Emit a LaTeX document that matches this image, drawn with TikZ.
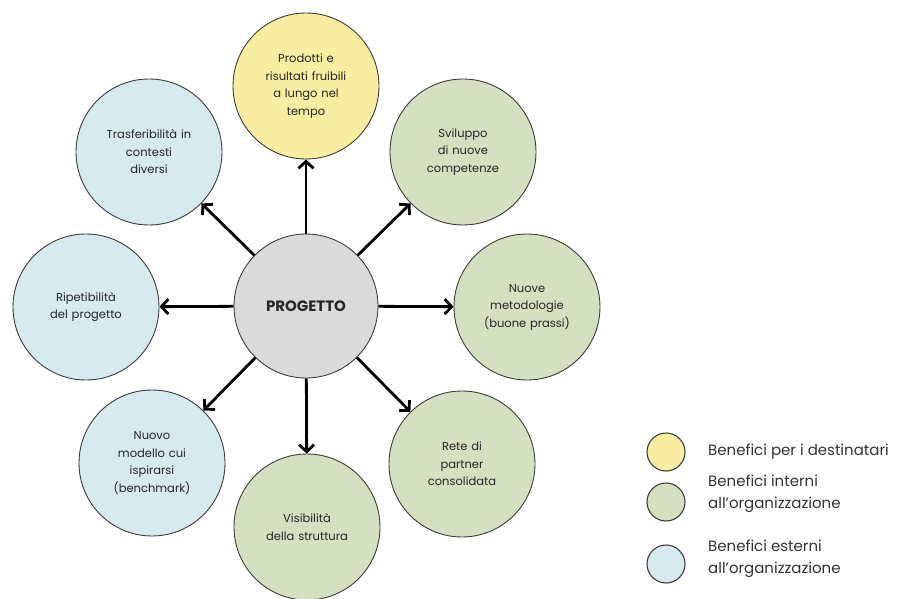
\documentclass[tikz,border=0pt]{standalone}
\usepackage{fontspec}
\setmainfont{Poppins}
\usetikzlibrary{arrows.meta}

\definecolor{giallo}{RGB}{248,237,160}
\definecolor{verde}{RGB}{212,224,192}
\definecolor{azzurro}{RGB}{214,234,240}
\definecolor{grigio}{RGB}{218,218,218}
\definecolor{bordo}{RGB}{60,60,60}

\tikzset{
	beneficio/.style = {circle, draw = bordo, line width = 0.9pt, minimum size = 146pt, inner sep = 0pt,
		text width = 120pt, align = center, font = \fontsize{11.5}{17.5}\selectfont, text = black!85},
	progetto/.style = {circle, draw = bordo, line width = 0.9pt, minimum size = 144pt, inner sep = 0pt,
		fill = grigio, font = \fontsize{15}{18}\selectfont\bfseries, text = black!85},
	legenda/.style = {circle, draw = bordo, line width = 1.1pt, minimum size = 38pt, inner sep = 0pt},
	voce/.style = {anchor = west, align = left, inner sep = 0pt, font = \fontsize{15}{22}\selectfont, text = black!80},
	freccia/.style = {line width = 2.8pt, -{Straight Barb[length = 7pt, width = 15pt]}}
}

\begin{document}
\begin{tikzpicture}[x=1pt, y=-1pt]
	\useasboundingbox (0,0) rectangle (903,599);
	\node (P)  at (306, 306)	[progetto]			{PROGETTO};
	\node (D1) at (306,  86)	[beneficio, fill = giallo]	{Prodotti e\\risultati fruibili\\a lungo nel\\tempo};
	\node (I1) at (463, 152)	[beneficio, fill = verde]	{Sviluppo\\di nuove\\competenze};
	\node (I2) at (527, 307)	[beneficio, fill = verde]	{Nuove\\metodologie\\(buone prassi)};
	\node (I3) at (462, 464)	[beneficio, fill = verde]	{Rete di\\partner\\consolidata};
	\node (I4) at (307, 527)	[beneficio, fill = verde]	{Visibilità\\della struttura};
	\node (E1) at (152, 463)	[beneficio, fill = azzurro]	{Nuovo\\modello cui\\ispirarsi\\(benchmark)};
	\node (E2) at ( 86, 307)	[beneficio, fill = azzurro]	{Ripetibilità\\del progetto};
	\node (E3) at (149, 152)	[beneficio, fill = azzurro]	{Trasferibilità in\\contesti\\diversi};
	\draw[freccia] (P) -- (D1);
	\draw[freccia] (P) -- (I1);
	\draw[freccia] (P) -- (I2);
	\draw[freccia] (P) -- (I3);
	\draw[freccia] (P) -- (I4);
	\draw[freccia] (P) -- (E1);
	\draw[freccia] (P) -- (E2);
	\draw[freccia] (P) -- (E3);
	% legenda
	\node (LD) at (666, 452)	[legenda, fill = giallo]	{};
	\node (LI) at (666, 502)	[legenda, fill = verde]		{};
	\node (LE) at (666, 564)	[legenda, fill = azzurro]	{};
	\node (TD) at (708, 452)	[voce]	{Benefici per i destinatari};
	\node (TI) at (708, 494)	[voce]	{Benefici interni\\all'organizzazione};
	\node (TE) at (708, 559)	[voce]	{Benefici esterni\\all'organizzazione};
\end{tikzpicture}
\end{document}
